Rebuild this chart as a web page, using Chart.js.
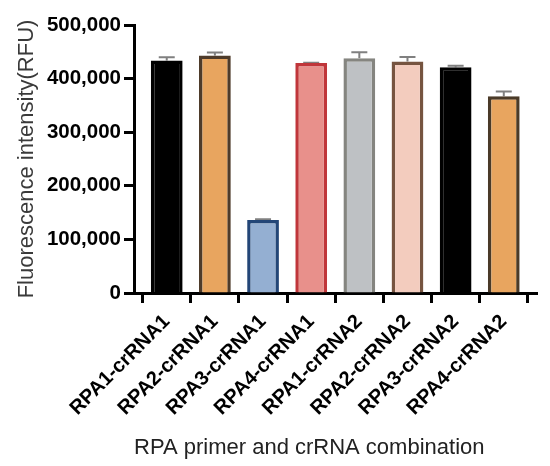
<!DOCTYPE html>
<html lang="en">
<head>
    <meta charset="UTF-8">
    <title>RPA primer and crRNA combination</title>
    <script src="https://cdn.jsdelivr.net/npm/chart.js"></script>
    <style>
        html, body { margin: 0; padding: 0; background: #fff; }
        #grafico { display: block; }
    </style>
</head>
<body>
    <canvas id="grafico" width="550" height="466"></canvas>
    <script>
        // dados
        var categories = ['RPA1-crRNA1', 'RPA2-crRNA1', 'RPA3-crRNA1', 'RPA4-crRNA1',
                          'RPA1-crRNA2', 'RPA2-crRNA2', 'RPA3-crRNA2', 'RPA4-crRNA2'];
        var means  = [434000, 443000, 136000, 429000, 438000, 432000, 421000, 367000];
        var errors = [6000, 5500, 1500, 800, 11000, 8500, 3000, 9000];
        var yTicks = [0, 100000, 200000, 300000, 400000, 500000];

        var fillColors   = ['#000000', '#E8A55F', '#94AFD2', '#E8908B', '#BEC1C4', '#F3CCBE', '#000000', '#E8A55F'];
        var borderColors = ['#000000', '#4E3B2A', '#234677', '#C0363A', '#858580', '#765440', '#000000', '#4A3A28'];

        var points = means.map(function (v, i) { return { x: i, y: v }; });

        // barras de erro (só para cima)
        var errorBars = {
            id: 'errorBars',
            beforeDatasetsDraw: function (chart) {
                var ctx = chart.ctx;
                var y = chart.scales.y;
                var meta = chart.getDatasetMeta(0);
                ctx.save();
                ctx.strokeStyle = '#808080';
                ctx.lineWidth = 2;
                meta.data.forEach(function (bar, i) {
                    var y0 = y.getPixelForValue(means[i]);
                    var y1 = y.getPixelForValue(means[i] + errors[i]);
                    ctx.beginPath();
                    ctx.moveTo(bar.x, y0);
                    ctx.lineTo(bar.x, y1);
                    ctx.moveTo(bar.x - 8, y1);
                    ctx.lineTo(bar.x + 8, y1);
                    ctx.stroke();
                });
                ctx.restore();
            }
        };

        var fonte = "'Liberation Sans', Arial, sans-serif";

        var grafico = new Chart(document.getElementById('grafico').getContext('2d'), {
            type: 'bar',
            data: {
                datasets: [{
                    data: points,
                    backgroundColor: fillColors,
                    borderColor: borderColors,
                    borderWidth: 3.5,
                    borderSkipped: 'bottom',
                    categoryPercentage: 1,
                    barPercentage: 0.66
                }]
            },
            plugins: [errorBars],
            options: {
                responsive: false,
                animation: false,
                layout: { padding: { top: 25, right: 13, bottom: 0, left: 0 } },
                plugins: {
                    legend: { display: false },
                    tooltip: { enabled: false }
                },
                scales: {
                    x: {
                        type: 'linear',
                        min: -0.68,
                        max: 7.69,
                        offset: false,
                        afterBuildTicks: function (scale) {
                            scale.ticks = categories.map(function (c, i) { return { value: i }; });
                        },
                        afterFit: function (scale) { scale.height = 173; },
                        border: { display: true, width: 3, color: '#000' },
                        grid: {
                            display: true,
                            drawOnChartArea: false,
                            drawTicks: true,
                            tickLength: 10,
                            tickWidth: 3,
                            tickColor: '#000'
                        },
                        ticks: {
                            autoSkip: false,
                            minRotation: 45,
                            maxRotation: 45,
                            padding: 7,
                            color: '#000',
                            font: { family: fonte, size: 20, weight: 'bold' },
                            callback: function (v) { return categories[v]; }
                        },
                        title: {
                            display: true,
                            text: 'RPA primer and crRNA combination',
                            align: 'start',
                            color: '#222',
                            font: { family: fonte, size: 22 },
                            padding: { top: 0, bottom: 5 }
                        }
                    },
                    y: {
                        min: 0,
                        max: 500000,
                        afterBuildTicks: function (scale) {
                            scale.ticks = yTicks.map(function (v) { return { value: v }; });
                        },
                        afterFit: function (scale) { scale.width = 134; },
                        border: { display: true, width: 3, color: '#000' },
                        grid: {
                            display: true,
                            drawOnChartArea: false,
                            drawTicks: true,
                            tickLength: 10,
                            tickWidth: 3,
                            tickColor: '#000'
                        },
                        ticks: {
                            padding: 3,
                            color: '#000',
                            font: { family: fonte, size: 20.5, weight: 'bold' }
                        },
                        title: {
                            display: true,
                            text: 'Fluorescence intensity(RFU)',
                            color: '#3a3a3a',
                            font: { family: fonte, size: 22 },
                            padding: { top: 14, bottom: 0 }
                        }
                    }
                }
            }
        });
    </script>
</body>
</html>
